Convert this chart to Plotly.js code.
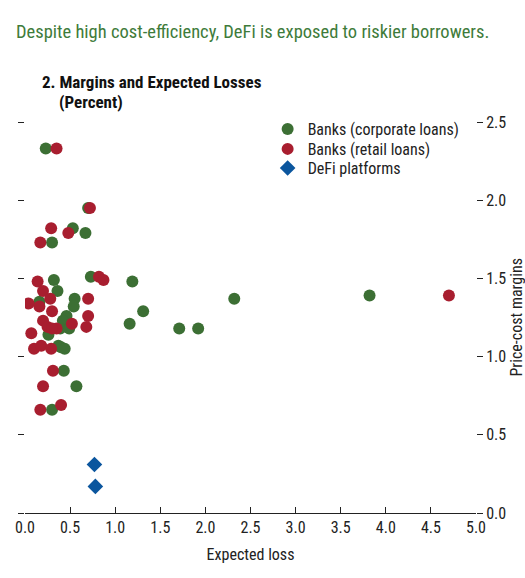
<!DOCTYPE html>
<html>
<head>
<meta charset="utf-8">
<script src="https://cdn.plot.ly/plotly-3.0.1.min.js"></script>
<style>
  html, body { margin: 0; padding: 0; background: #fff; }
  #chart { width: 525px; height: 578px; }
</style>
</head>
<body>
<div id="chart"></div>
<script>
// values
const corporateX = [0.23, 0.70, 0.53, 0.67, 0.30, 0.32, 0.73, 1.19, 0.36, 0.16,
  0.55, 0.54, 0.46, 0.42, 0.39, 0.49, 0.26, 1.16, 1.31, 1.71, 1.92, 2.32,
  0.37, 0.40, 0.44, 0.43, 0.57, 0.30, 3.82];
const corporateY = [2.33, 1.95, 1.82, 1.79, 1.73, 1.49, 1.51, 1.48, 1.42, 1.35,
  1.37, 1.32, 1.26, 1.23, 1.18, 1.18, 1.14, 1.21, 1.29, 1.18, 1.18, 1.37,
  1.07, 1.06, 1.05, 0.91, 0.81, 0.66, 1.39];

const retailX = [0.35, 0.72, 0.29, 0.48, 0.17, 0.14, 0.82, 0.87, 0.20, 0.04,
  0.16, 0.28, 0.70, 0.30, 0.20, 0.52, 0.70, 0.25, 0.35, 0.30, 0.68, 0.07,
  0.10, 0.18, 0.29, 0.31, 0.20, 0.40, 0.17, 4.70];
const retailY = [2.33, 1.95, 1.82, 1.79, 1.73, 1.48, 1.51, 1.49, 1.42, 1.34,
  1.32, 1.37, 1.37, 1.29, 1.23, 1.21, 1.26, 1.19, 1.18, 1.18, 1.19, 1.15,
  1.05, 1.07, 1.05, 0.91, 0.81, 0.69, 0.66, 1.39];

const defiX = [0.77, 0.78];
const defiY = [0.31, 0.17];

const xTicks = [0, 0.5, 1, 1.5, 2, 2.5, 3, 3.5, 4, 4.5, 5];
const yTicks = [0, 0.5, 1, 1.5, 2, 2.5];

const FONT = "'Liberation Sans Narrow', 'Roboto Condensed', Arial, sans-serif";
const INK = "#222";
const GREEN = "#3c6f34";
const RED = "#a81e2f";
const BLUE = "#0b569e";

const traces = [
  {
    x: corporateX, y: corporateY, type: "scatter", mode: "markers",
    name: "Banks (corporate loans)", legend: "legend",
    marker: { color: GREEN, size: 12, symbol: "circle" },
  },
  {
    x: retailX, y: retailY, type: "scatter", mode: "markers",
    name: "Banks (retail loans)", legend: "legend2",
    marker: { color: RED, size: 12, symbol: "circle" },
  },
  {
    x: defiX, y: defiY, type: "scatter", mode: "markers",
    name: "DeFi platforms", legend: "legend3",
    marker: { color: BLUE, size: 12, symbol: "diamond" },
  },
];

// one legend per series so the rows can sit as tightly as in the reference
function legendAt(y) {
  return {
    x: 0.538, y: y, xanchor: "left", yanchor: "middle",
    font: { family: FONT, size: 16, color: INK },
    bgcolor: "rgba(0,0,0,0)",
    itemwidth: 30,
  };
}

const layout = {
  width: 525,
  height: 578,
  margin: { l: 25, r: 49, t: 122, b: 65 },
  paper_bgcolor: "#fff",
  plot_bgcolor: "#fff",
  font: { family: FONT, size: 16, color: INK },
  showlegend: true,
  legend: legendAt(0.982),
  legend2: legendAt(0.931),
  legend3: legendAt(0.882),
  xaxis: {
    range: [0, 5],
    tickvals: xTicks,
    ticktext: xTicks.map((v) => v.toFixed(1)),
    ticks: "inside",
    ticklen: 6,
    tickcolor: INK,
    showline: true,
    linecolor: INK,
    linewidth: 1,
    showgrid: false,
    zeroline: false,
    tickfont: { family: FONT, size: 16, color: INK },
    title: { text: "Expected loss", font: { family: FONT, size: 16, color: INK }, standoff: 12 },
  },
  yaxis: {
    range: [0, 2.5],
    side: "right",
    tickvals: yTicks,
    ticktext: yTicks.map((v) => v.toFixed(1)),
    ticks: "outside",
    ticklen: 6,
    tickcolor: INK,
    mirror: "ticks",
    showline: false,
    showgrid: false,
    zeroline: false,
    tickfont: { family: FONT, size: 16, color: INK },
  },
  annotations: [
    {
      text: "Despite high cost-efficiency, DeFi is exposed to riskier borrowers.",
      xref: "paper", yref: "paper", x: -11 / 451, y: 1 + 90 / 391,
      xanchor: "left", yanchor: "middle", showarrow: false,
      font: { family: FONT, size: 18.5, color: "#3e7b3a" },
    },
    {
      text: "<b>2. Margins and Expected Losses</b>",
      xref: "paper", yref: "paper", x: 15 / 451, y: 1 + 40 / 391,
      xanchor: "left", yanchor: "middle", showarrow: false,
      font: { family: FONT, size: 17, color: "#111" },
    },
    {
      text: "<b>(Percent)</b>",
      xref: "paper", yref: "paper", x: 32 / 451, y: 1 + 20 / 391,
      xanchor: "left", yanchor: "middle", showarrow: false,
      font: { family: FONT, size: 17, color: "#111" },
    },
    {
      text: "Price-cost margins",
      xref: "paper", yref: "paper", x: 1 + 40 / 451, y: 0.5,
      xanchor: "center", yanchor: "middle", showarrow: false,
      textangle: -90,
      font: { family: FONT, size: 16, color: INK },
    },
  ],
};

Plotly.newPlot("chart", traces, layout, { displayModeBar: false, staticPlot: true });
</script>
</body>
</html>
